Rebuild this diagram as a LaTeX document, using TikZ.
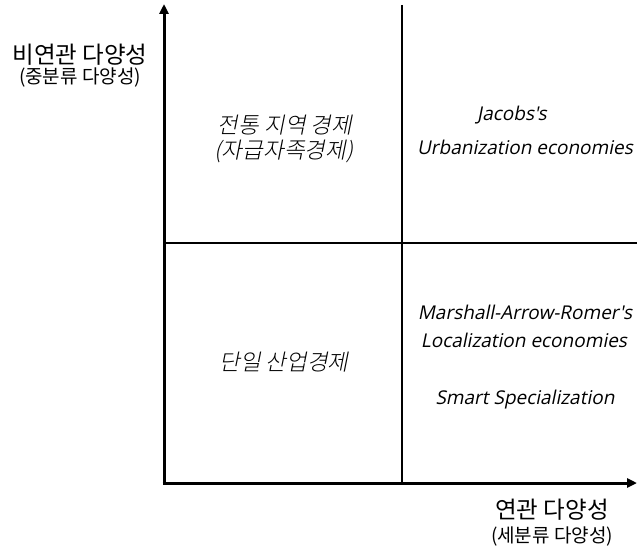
\documentclass[tikz,border=0pt]{standalone}
\usepackage{fontspec}
\setmainfont{Noto Sans CJK KR}
\newfontfamily\krslant[FakeSlant=0.2]{Noto Sans CJK KR Light}
\newfontfamily\latslant[FakeSlant=0.2]{Open Sans}
\usetikzlibrary{arrows.meta}
\tikzset{
  axis/.style={line width=3pt, -{Triangle[length=10pt,width=9pt]}},
  divider/.style={line width=1.5pt},
  axlabel/.style={font=\fontsize{23.5}{26}\selectfont, inner sep=0pt},
  axsub/.style={font=\fontsize{19}{21}\selectfont, inner sep=0pt},
  quadkr/.style={font=\krslant\fontsize{22.5}{25}\selectfont, inner sep=0pt},
  quadlat/.style={font=\latslant\fontsize{19}{22}\selectfont, inner sep=0pt}
}
\begin{document}
\begin{tikzpicture}[x=1pt,y=-1pt]
\useasboundingbox (0,0) rectangle (637,548);
\coordinate (O) at (164,483);
\coordinate (Ytip) at (164,4);
\coordinate (Xtip) at (637,483);
\coordinate (Vtop) at (402,5);
\coordinate (Vbot) at (402,483);
\coordinate (Hl) at (164,243);
\coordinate (Hr) at (637,243);
\draw[divider] (Vtop) -- (Vbot);
\draw[divider] (Hl) -- (Hr);
\draw[axis] ([yshift=1.5pt]O) -- (Ytip);
\draw[axis] ([xshift=-1.5pt]O) -- (Xtip);
\node[axlabel] (yl) at (80,55) {비연관 다양성};
\node[axsub] (ys) at (80,78) {(중분류 다양성)};
\node[axlabel] (xl) at (552,510) {연관 다양성};
\node[axsub] (xs) at (552,537) {(세분류 다양성)};
\node[quadkr] (q1a) at (285,125) {전통 지역 경제};
\node[quadkr] (q1b) at (284,151) {(자급자족경제)};
\node[quadlat] (q2a) at (512,115) {Jacobs's};
\node[quadlat] (q2b) at (525,147) {Urbanization economies};
\node[quadkr] (q3) at (284,362) {단일 산업경제};
\node[quadlat] (q4a) at (525,312) {Marshall-Arrow-Romer's};
\node[quadlat] (q4b) at (524,340) {Localization economies};
\node[quadlat] (q4c) at (525,400) {Smart Specialization};
\end{tikzpicture}
\end{document}
